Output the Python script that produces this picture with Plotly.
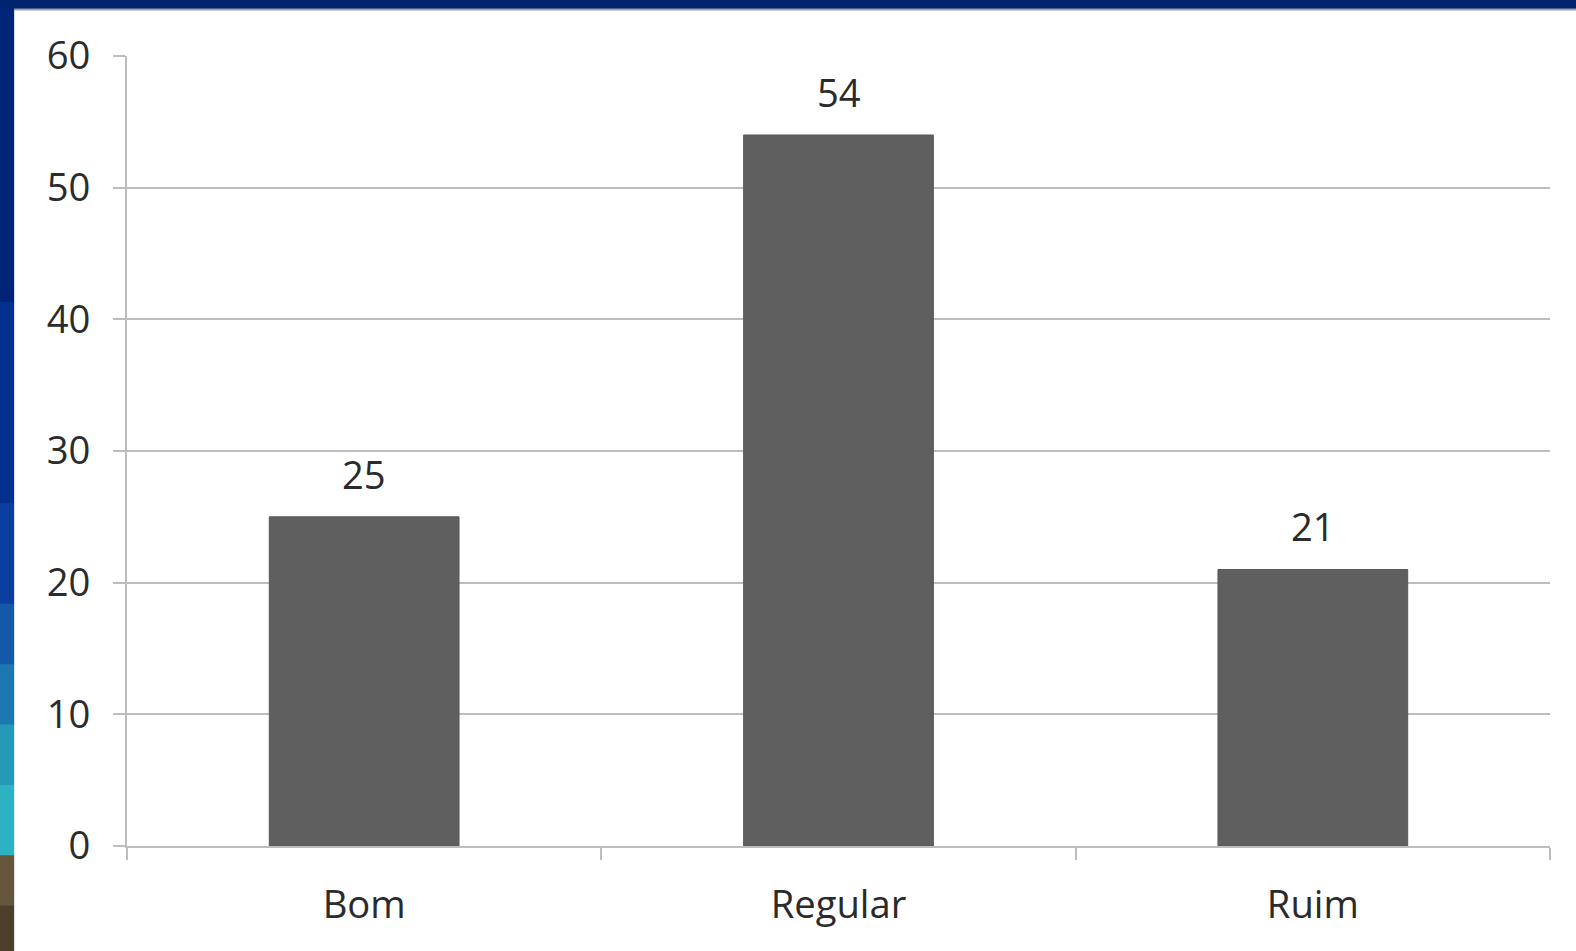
import plotly.graph_objects as go

categories = ["Bom", "Regular", "Ruim"]
values = [25, 54, 21]
y_ticks = [0, 10, 20, 30, 40, 50, 60]

# target picture size and the (slightly larger) viewport it is taken from
TW, TH = 1576, 951
W, H = 1585, 957
KX, KY = W / TW, H / TH
K = (KX + KY) / 2

L, R, T, B = round(126 * KX), round(35 * KX), round(56 * KY), round(110 * KY)
PW, PH = W - L - R, H - T - B

def xp(px):
    return (px * KX - L) / PW

def yp(py):
    return (H - B - py * KY) / PH

FONT = "Open Sans"
TXT = "#2b2b2b"
GRID = "#bdbdbd"
FS = 38 * K

fig = go.Figure()
fig.add_trace(go.Bar(
    x=categories, y=values,
    marker=dict(color="#5f5f5f", line=dict(color="#585858", width=1)),
    hoverinfo="x+y",
))

for c, v in zip(categories, values):
    fig.add_annotation(x=c, y=v, text=str(v), showarrow=False,
                       yanchor="bottom", yshift=15 * K,
                       font=dict(family=FONT, size=FS, color=TXT))

shapes = []
# white slide panel
shapes.append(dict(type="rect", xref="paper", yref="paper",
                   x0=xp(14), x1=xp(TW + 10), y0=yp(9), y1=yp(TH + 10),
                   fillcolor="white", line=dict(width=0), layer="below"))
shapes.append(dict(type="line", xref="paper", yref="paper",
                   x0=xp(14), x1=xp(TW + 10), y0=yp(9.5), y1=yp(9.5),
                   line=dict(color="#9aa0b0", width=2), layer="below"))
# left strip gradient bands
bands = [
    (9, 300, "#002478"), (300, 500, "#03308f"), (500, 600, "#0a3f9f"),
    (600, 660, "#1458aa"), (660, 720, "#1c78b0"), (720, 780, "#2499b8"),
    (780, 850, "#2cb2c2"), (850, 900, "#65553a"), (900, 960, "#4e3f2a"),
]
for y0, y1, col in bands:
    shapes.append(dict(type="rect", xref="paper", yref="paper",
                       x0=xp(-5), x1=xp(14), y0=yp(y0), y1=yp(y1 + 1),
                       fillcolor=col, line=dict(width=0), layer="below"))
fig.update_layout(shapes=shapes)

fig.update_layout(
    width=W, height=H,
    margin=dict(l=L, r=R, t=T, b=B, pad=0),
    paper_bgcolor="#00236f",
    plot_bgcolor="white",
    showlegend=False,
    bargap=0.6,
    font=dict(family=FONT, size=FS, color=TXT),
    xaxis=dict(
        showline=True, linecolor=GRID, linewidth=2,
        ticks="outside", ticklen=12, tickwidth=2, tickcolor=GRID,
        tickson="boundaries", showgrid=False,
        tickfont=dict(family=FONT, size=FS, color=TXT),
        ticklabelstandoff=24,
    ),
    yaxis=dict(
        range=[0, 60], tickvals=y_ticks,
        showgrid=True, gridcolor=GRID, gridwidth=2,
        showline=True, linecolor=GRID, linewidth=2,
        ticks="outside", ticklen=12, tickwidth=2, tickcolor=GRID,
        zeroline=False,
        tickfont=dict(family=FONT, size=FS, color=TXT),
        ticklabelstandoff=15,
    ),
)

fig.write_html(
    "out.html",
    config={"displayModeBar": False},
    post_script="document.body.style.margin='0';document.body.style.overflow='hidden';",
)
